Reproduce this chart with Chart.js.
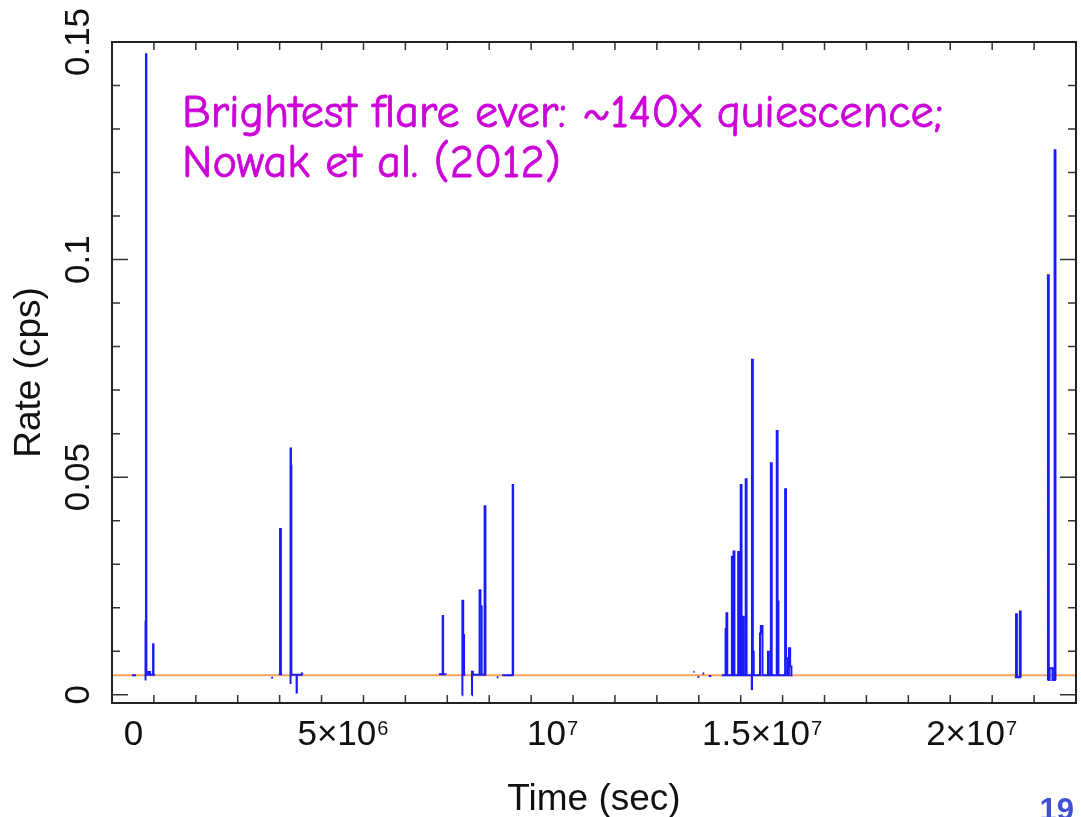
<!DOCTYPE html>
<html>
<head>
<meta charset="utf-8">
<script src="https://cdn.jsdelivr.net/npm/chart.js@4"></script>
<style>
  html, body { margin: 0; padding: 0; background: #fff; }
  canvas { display: block; }
</style>
</head>
<body>
<canvas id="lc" width="1081" height="817"></canvas>
<script>
// Time axis in units of 10^6 s, rate in counts/s
const xTickValues = [0, 5, 10, 15, 20];
const xTickText = ['0', '5×10', '10', '1.5×10', '2×10'];
const xTickPower = ['', '6', '7', '7', '7'];
const yTickValues = [0, 0.05, 0.1, 0.15];
const yTickText = ['0', '0.05', '0.1', '0.15'];

const quiescentRate = 0.0045;

// binned light curve, null = gap between observations
const lcTime = [
  -0.03, 0.06, null,
  0.27, 0.29, 0.30, 0.31, 0.36, 0.40, 0.47, 0.48, 0.52, null,
  3.29, 3.33, null,
  3.47, 3.50, 3.52, 3.55, null,
  3.73, 3.75, 3.76, 3.77, 3.895, 3.90, 3.92, 4.02, 4.05, null,
  7.29, 7.38, 7.39, 7.47, null,
  7.845, 7.85, 7.87, 7.88, 7.89, 7.92, null,
  8.075, 8.08, 8.10, 8.26, 8.28, 8.31, 8.38, 8.40, 8.42, null,
  8.67, 8.71, null,
  8.80, 9.04, 9.05, 9.06, null,
  13.36, 13.39, null,
  13.46, 13.50, null,
  13.58, 13.62, null,
  13.73, 13.79, null,
  14.04, 14.13, 14.15, 14.17, 14.28, 14.30, 14.32, 14.34, 14.43, 14.45,
  14.49, 14.51, 14.54, 14.56, 14.61, 14.63, 14.755, 14.76, 14.78, 14.80,
  14.95, 14.97, 15.01, 15.14, 15.16, 15.21, 15.23, 15.35, 15.37, 15.39,
  15.55, 15.57, 15.60, 15.64, 15.67, 15.70, null,
  21.03, 21.06, 21.08, 21.15, 21.17, 21.18, null,
  21.81, 21.82, 21.84, 21.86, 21.93, 21.98, 22.00, 22.01
];
const lcRate = [
  0.0045, 0.0045, null,
  0.0035, 0.0168, 0.1472, 0.0046, 0.0052, 0.0046, 0.0116, 0.0046, 0.0046, null,
  0.0039, 0.0039, null,
  0.0047, 0.0381, 0.0047, 0.0047, null,
  0.0027, 0.0566, 0.0526, 0.0046, 0.0005, 0.0046, 0.0046, 0.0049, 0.0049, null,
  0.0047, 0.0181, 0.0047, 0.0047, null,
  -0.0001, 0.0216, 0.0046, 0.0137, 0.0046, 0.0046, null,
  -0.0001, 0.0053, 0.0046, 0.0240, 0.0203, 0.0046, 0.0433, 0.0046, 0.0046, null,
  0.0040, 0.0040, null,
  0.0045, 0.0045, 0.0482, 0.0046, null,
  0.0053, 0.0053, null,
  0.0041, 0.0041, null,
  0.0049, 0.0049, null,
  0.0043, 0.0043, null,
  0.0045, 0.0151, 0.0187, 0.0045, 0.0317, 0.0045, 0.0329, 0.0045, 0.0328, 0.0045,
  0.0482, 0.0045, 0.0179, 0.0045, 0.0495, 0.0045, 0.0013, 0.0770, 0.0099, 0.0045,
  0.0141, 0.0158, 0.0045, 0.0099, 0.0045, 0.0532, 0.0045, 0.0606, 0.0214, 0.0045,
  0.0472, 0.0084, 0.0045, 0.0107, 0.0065, 0.0042, null,
  0.0040, 0.0185, 0.0040, 0.0191, 0.0040, 0.0040, null,
  0.0034, 0.0964, 0.0034, 0.0061, 0.0034, 0.1251, 0.0034, 0.0034
];

const X_MIN = -0.51, X_MAX = 22.49;
const Y_MIN = -0.0019, Y_MAX = 0.15;

const lcPoints = lcTime.map((t, i) => (t === null ? { x: null, y: null } : { x: t, y: lcRate[i] }));

const AXIS_FONT = '"Liberation Sans", Arial, Helvetica, sans-serif';

// frame, inward ticks and labels in the style of a PGPLOT light curve
const frameAxes = {
  id: 'frameAxes',
  afterDraw(chart) {
    const { ctx, chartArea: a, scales: { x, y } } = chart;
    ctx.save();

    ctx.strokeStyle = '#333';
    ctx.lineWidth = 1.5;
    ctx.beginPath();
    x.ticks.forEach(t => {
      const px = x.getPixelForValue(t.value);
      const len = Math.abs(t.value / 5 - Math.round(t.value / 5)) < 1e-6 ? 16 : 8;
      ctx.moveTo(px, a.bottom); ctx.lineTo(px, a.bottom - len);
      ctx.moveTo(px, a.top); ctx.lineTo(px, a.top + len);
    });
    y.ticks.forEach(t => {
      const py = y.getPixelForValue(t.value);
      const len = Math.abs(t.value / 0.05 - Math.round(t.value / 0.05)) < 1e-6 ? 16 : 8;
      ctx.moveTo(a.left, py); ctx.lineTo(a.left + len, py);
      ctx.moveTo(a.right, py); ctx.lineTo(a.right - len, py);
    });
    ctx.stroke();

    ctx.strokeStyle = '#222';
    ctx.lineWidth = 2;
    ctx.strokeRect(a.left, a.top, a.right - a.left, a.bottom - a.top);

    // x tick labels with raised exponent
    ctx.fillStyle = '#111';
    ctx.textBaseline = 'alphabetic';
    xTickValues.forEach((v, i) => {
      const px = x.getPixelForValue(v);
      ctx.font = '35px ' + AXIS_FONT;
      const wb = ctx.measureText(xTickText[i]).width;
      ctx.font = '20px ' + AXIS_FONT;
      const we = xTickPower[i] ? ctx.measureText(xTickPower[i]).width + 1 : 0;
      const x0 = px - (wb + we) / 2;
      ctx.font = '35px ' + AXIS_FONT;
      ctx.textAlign = 'left';
      ctx.fillText(xTickText[i], x0, 745);
      if (xTickPower[i]) {
        ctx.font = '20px ' + AXIS_FONT;
        ctx.fillText(xTickPower[i], x0 + wb + 1, 735);
      }
    });

    // y tick labels, rotated
    ctx.font = '35px ' + AXIS_FONT;
    ctx.textAlign = 'center';
    yTickValues.forEach((v, i) => {
      const py = y.getPixelForValue(v);
      ctx.save();
      ctx.translate(89, py);
      ctx.rotate(-Math.PI / 2);
      ctx.fillText(yTickText[i], 0, 0);
      ctx.restore();
    });

    // axis titles
    ctx.font = '37px ' + AXIS_FONT;
    ctx.fillText('Time (sec)', (a.left + a.right) / 2, 810);
    ctx.save();
    ctx.translate(40, (a.top + a.bottom) / 2);
    ctx.rotate(-Math.PI / 2);
    ctx.fillText('Rate (cps)', 0, 0);
    ctx.restore();

    // annotation
    const line1 = 'Brightest flare ever: ~140x quiescence;';
    const line2 = 'Nowak et al. (2012)';
    const annFont = '"Comic Sans MS", "Comic Neue", Lato, "Open Sans", sans-serif';
    ctx.font = '40px ' + annFont;
    const size = 40 * 761 / ctx.measureText(line1).width;
    ctx.font = size.toFixed(1) + 'px ' + annFont;
    ctx.fillStyle = '#cc00d8';
    ctx.strokeStyle = '#cc00d8';
    ctx.lineWidth = 0.8;
    ctx.textAlign = 'left';
    ctx.fillText(line1, 182, 127);
    ctx.strokeText(line1, 182, 127);
    ctx.fillText(line2, 182, 177);
    ctx.strokeText(line2, 182, 177);

    // slide number
    ctx.font = 'bold 31px ' + AXIS_FONT;
    ctx.fillStyle = '#3f4fd6';
    ctx.textAlign = 'right';
    ctx.fillText('19', 1074, 820);

    ctx.restore();
  }
};

new Chart(document.getElementById('lc'), {
  type: 'line',
  data: {
    datasets: [
      {
        label: 'Rate',
        data: lcPoints,
        borderColor: '#1a1aff',
        borderWidth: 2,
        pointRadius: 0,
        stepped: true,
        spanGaps: false,
        fill: false
      },
      {
        label: 'Quiescent level',
        data: [{ x: X_MIN, y: quiescentRate }, { x: X_MAX, y: quiescentRate }],
        borderColor: '#f7a35c',
        borderWidth: 2,
        pointRadius: 0,
        fill: false
      }
    ]
  },
  options: {
    responsive: false,
    animation: false,
    events: [],
    layout: { padding: { left: 112, right: 5, top: 42, bottom: 114 } },
    plugins: { legend: { display: false }, tooltip: { enabled: false } },
    scales: {
      x: {
        type: 'linear',
        min: X_MIN,
        max: X_MAX,
        grid: { display: false },
        border: { display: false },
        ticks: { display: false, stepSize: 1, includeBounds: false },
        afterFit(s) { s.height = 0; }
      },
      y: {
        type: 'linear',
        min: Y_MIN,
        max: Y_MAX,
        grid: { display: false },
        border: { display: false },
        ticks: { display: false, stepSize: 0.01, includeBounds: false },
        afterFit(s) { s.width = 0; }
      }
    }
  },
  plugins: [frameAxes]
});
</script>
</body>
</html>
